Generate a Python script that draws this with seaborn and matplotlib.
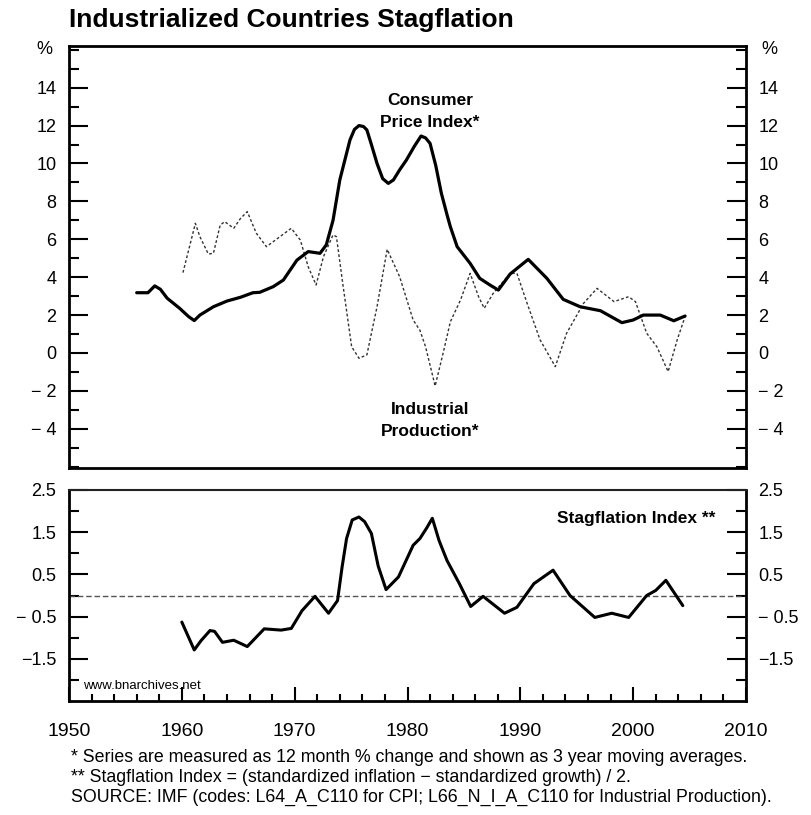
import matplotlib
matplotlib.use("Agg")
import matplotlib.pyplot as plt
import matplotlib.transforms as mtransforms
from matplotlib.ticker import MultipleLocator, FixedLocator, FixedFormatter
import seaborn as sns
import pandas as pd

# ---------------- data ----------------
cpi_years = [1956.0, 1957.0, 1957.6, 1958.1, 1958.7, 1959.8, 1960.6, 1961.1, 1961.6, 1962.8,
             1964.0, 1965.2, 1966.3, 1966.9, 1968.1, 1969.0, 1970.2, 1971.2, 1972.25, 1972.8,
             1973.4, 1974.0, 1974.9, 1975.3, 1975.7, 1976.1, 1976.4, 1976.8, 1977.3, 1977.8,
             1978.3, 1978.75, 1979.3, 1979.9, 1980.6, 1981.2, 1981.6, 1982.0, 1982.5, 1983.0,
             1983.5, 1983.8, 1984.4, 1985.55, 1986.4, 1987.3, 1988.05, 1989.1, 1990.7,
             1992.35, 1993.8, 1995.3, 1997.1, 1999.0, 2000.0, 2000.9, 2002.4, 2003.6, 2004.6]
cpi_vals = [3.18, 3.18, 3.54, 3.36, 2.89, 2.36, 1.92, 1.71, 2.0, 2.44,
            2.74, 2.94, 3.18, 3.2, 3.5, 3.85, 4.9, 5.35, 5.26, 5.7,
            7.0, 9.13, 11.24, 11.8, 12.0, 11.95, 11.77, 11.0, 10.0, 9.2,
            8.95, 9.13, 9.66, 10.18, 10.9, 11.45, 11.35, 11.06, 9.9, 8.43,
            7.3, 6.66, 5.61, 4.73, 3.94, 3.59, 3.32, 4.17, 4.94,
            3.94, 2.83, 2.44, 2.23, 1.6, 1.74, 2.0, 2.0, 1.7, 1.95]

ip_years = [1960.1, 1961.2, 1961.6, 1962.35, 1962.8, 1963.4, 1963.8, 1964.6, 1965.2, 1965.8,
            1966.6, 1967.5, 1968.7, 1969.7, 1970.5, 1971.2, 1971.9, 1972.55, 1973.4, 1973.7,
            1974.3, 1975.05, 1975.7, 1976.4, 1977.3, 1978.2, 1979.3, 1980.5, 1981.1, 1981.6,
            1982.45, 1983.2, 1983.8, 1984.7, 1985.55, 1986.3, 1986.8, 1987.6, 1989.1, 1989.7,
            1990.6, 1991.75, 1993.1, 1994.1, 1995.6, 1996.8, 1998.3, 1999.6, 2000.2, 2001.2,
            2002.1, 2003.1, 2003.9, 2004.6]
ip_vals = [4.24, 6.84, 6.14, 5.22, 5.26, 6.75, 6.93, 6.58, 7.1, 7.46,
           6.32, 5.61, 6.14, 6.58, 5.96, 4.55, 3.59, 5.08, 6.23, 6.14,
           3.5, 0.33, -0.28, -0.1, 2.44, 5.47, 4.03, 1.74, 1.2, 0.33,
           -1.74, 0.1, 1.65, 2.8, 4.2, 2.97, 2.36, 3.15, 4.2, 4.2,
           2.62, 0.69, -0.72, 1.04, 2.62, 3.41, 2.71, 2.97, 2.71, 1.04,
           0.33, -0.98, 0.69, 1.92]

stag_years = [1960.0, 1961.1, 1961.7, 1962.5, 1962.9, 1963.6, 1964.6, 1965.8, 1967.3, 1968.8,
              1969.7, 1970.65, 1971.8, 1973.0, 1973.8, 1974.2, 1974.6, 1975.1, 1975.7, 1976.2,
              1976.8, 1977.4, 1978.1, 1979.2, 1980.5, 1981.1, 1981.7, 1982.2, 1982.8, 1983.5,
              1984.6, 1985.6, 1986.7, 1988.6, 1989.7, 1991.2, 1992.9, 1994.4, 1996.6, 1998.1,
              1999.6, 2001.2, 2002.0, 2002.9, 2004.4]
stag_vals = [-0.63, -1.29, -1.07, -0.83, -0.85, -1.11, -1.06, -1.21, -0.79, -0.82,
             -0.78, -0.36, -0.02, -0.42, -0.12, 0.67, 1.35, 1.79, 1.86, 1.75,
             1.47, 0.7, 0.14, 0.44, 1.19, 1.35, 1.6, 1.83, 1.3, 0.83,
             0.28, -0.26, -0.02, -0.42, -0.28, 0.28, 0.6, 0.0, -0.52, -0.42,
             -0.52, 0.0, 0.12, 0.36, -0.24]

top_yticks = [-4, -2, 0, 2, 4, 6, 8, 10, 12, 14]
top_ylabels = ["\u2212 4", "\u2212 2", "0", "2", "4", "6", "8", "10", "12", "14"]
bot_yticks = [-1.5, -0.5, 0.5, 1.5, 2.5]
bot_ylabels = ["\u22121.5", "\u2212 0.5", "0.5", "1.5", "2.5"]
year_ticks = [1950, 1960, 1970, 1980, 1990, 2000, 2010]

title = "Industrialized Countries Stagflation"
footnotes = [
    "* Series are measured as 12 month % change and shown as 3 year moving averages.",
    "** Stagflation Index = (standardized inflation \u2212 standardized growth) / 2.",
    "SOURCE: IMF (codes: L64_A_C110 for CPI; L66_N_I_A_C110 for Industrial Production).",
]

# ---------------- style ----------------
sns.set_style("ticks")
plt.rcParams["font.family"] = ["Liberation Sans", "DejaVu Sans"]
plt.rcParams["axes.linewidth"] = 2.0
plt.rcParams["text.color"] = "black"
plt.rcParams["xtick.color"] = "black"
plt.rcParams["ytick.color"] = "black"
plt.rcParams["axes.edgecolor"] = "black"

cpi_df = pd.DataFrame({"year": cpi_years, "value": cpi_vals})
ip_df = pd.DataFrame({"year": ip_years, "value": ip_vals})
stag_df = pd.DataFrame({"year": stag_years, "value": stag_vals})

fig = plt.figure(figsize=(8.12, 8.15), dpi=100)
ax1 = fig.add_axes([69 / 812, 1 - 468 / 815, 677 / 812, 422 / 815])
ax2 = fig.add_axes([69 / 812, 1 - 701 / 815, 677 / 812, 211 / 815])

# top panel
sns.lineplot(data=ip_df, x="year", y="value", ax=ax1, color="#333333", lw=1.0,
             linestyle=(0, (2.0, 1.6)))
sns.lineplot(data=cpi_df, x="year", y="value", ax=ax1, color="black", lw=2.3)
for l in ax1.lines:
    l.set_solid_joinstyle("round")
    l.set_solid_capstyle("round")
ax1.set_xlim(1950, 2010)
ax1.set_ylim(-6.07, 16.2)
ax1.set_xlabel("")
ax1.set_ylabel("")
ax1.yaxis.set_major_locator(FixedLocator(top_yticks))
ax1.yaxis.set_major_formatter(FixedFormatter(top_ylabels))
ax1.yaxis.set_minor_locator(MultipleLocator(1))
ax1.tick_params(axis="x", which="both", bottom=False, top=False, labelbottom=False)
ax1.tick_params(axis="y", which="both", direction="in", left=True, right=True,
                labelleft=True, labelright=True, labelsize=13, pad=9, width=1.5,
                labelcolor="black")
ax1.tick_params(axis="y", which="major", length=14)
ax1.tick_params(axis="y", which="minor", length=7)
for s in ax1.spines.values():
    s.set_visible(True)
    s.set_linewidth(2.0)

tr1l = mtransforms.blended_transform_factory(ax1.transAxes, ax1.transData)
ax1.text(-0.025, 16.0, "%", transform=tr1l, ha="right", va="center", fontsize=13)
ax1.text(1.023, 16.0, "%", transform=tr1l, ha="left", va="center", fontsize=13)

ax1.text(1982.0, 12.75, "Consumer\nPrice Index*", ha="center", va="center",
         fontsize=12.5, fontweight="bold", linespacing=1.6)
ax1.text(1982.0, -3.55, "Industrial\nProduction*", ha="center", va="center",
         fontsize=12.5, fontweight="bold", linespacing=1.6)

# bottom panel
ax2.axhline(0, color="#555555", lw=1.0, linestyle=(0, (4, 2)))
sns.lineplot(data=stag_df, x="year", y="value", ax=ax2, color="black", lw=2.2)
for l in ax2.lines[1:]:
    l.set_solid_joinstyle("round")
    l.set_solid_capstyle("round")
ax2.set_xlim(1950, 2010)
ax2.set_ylim(-2.5, 2.5)
ax2.set_xlabel("")
ax2.set_ylabel("")
ax2.yaxis.set_major_locator(FixedLocator(bot_yticks))
ax2.yaxis.set_major_formatter(FixedFormatter(bot_ylabels))
ax2.yaxis.set_minor_locator(FixedLocator([-2, -1, 0, 1, 2]))
ax2.xaxis.set_major_locator(FixedLocator(year_ticks))
ax2.xaxis.set_minor_locator(MultipleLocator(2))
ax2.tick_params(axis="y", which="both", direction="in", left=True, right=True,
                labelleft=True, labelright=True, labelsize=13, pad=9, width=1.5,
                labelcolor="black")
ax2.tick_params(axis="y", which="major", length=14)
ax2.tick_params(axis="y", which="minor", length=7)
ax2.tick_params(axis="x", which="both", direction="in", bottom=True, top=False,
                labelsize=14, pad=16, width=1.5, labelcolor="black")
ax2.tick_params(axis="x", which="major", length=10)
ax2.tick_params(axis="x", which="minor", length=5)
for s in ax2.spines.values():
    s.set_visible(True)
    s.set_linewidth(2.0)
ax2.spines["top"].set_linewidth(1.5)
ax2.spines["top"].set_color("#222222")

ax2.text(0.955, 0.865, "Stagflation Index **", transform=ax2.transAxes, ha="right",
         va="center", fontsize=12.5, fontweight="bold")
ax2.text(0.021, 0.07, "www.bnarchives.net", transform=ax2.transAxes, ha="left",
         va="center", fontsize=9.5)

fig.text(69 / 812, 1 - 20 / 815, title, ha="left", va="center", fontsize=19,
         fontweight="bold")
for i, line in enumerate(footnotes):
    fig.text(71 / 812, 1 - (758 + i * 19.5) / 815, line, ha="left", va="center",
             fontsize=12.8)

fig.savefig("out.png", dpi=100)
